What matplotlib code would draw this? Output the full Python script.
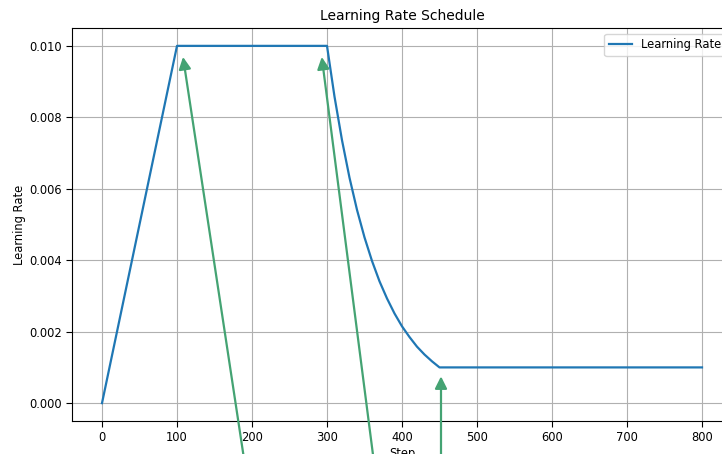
import matplotlib
matplotlib.use("Agg")
import matplotlib.pyplot as plt
import numpy as np

# learning rate schedule
steps = [0, 100, 300, 310, 320, 330, 340, 350, 360, 370, 380, 390,
         400, 410, 420, 430, 440, 450, 800]
lr = [0.0, 0.01, 0.01, 0.00858, 0.00736, 0.00631, 0.00541, 0.00464,
      0.00398, 0.00341, 0.00293, 0.00251, 0.00215, 0.00185, 0.00158,
      0.00136, 0.00117, 0.001, 0.001]

# arrow tips and the (off-figure) tail points
arrow_tips = [(108, 0.00969), (293, 0.00969), (452, 0.00075)]
arrow_tails = [(207, -0.004), (377, -0.004), (452, -0.004)]

plt.rcParams["font.size"] = 8.3

fig = plt.figure(figsize=(7.22, 4.54), dpi=100)
ax = fig.add_axes([72 / 722, 33 / 454, 660 / 722, 393 / 454])

ax.plot(steps, lr, color="#1f77b4", lw=1.6, label="Learning Rate")
ax.set_xlim(-40, 840)
ax.set_ylim(-0.0005, 0.0105)
ax.set_xticks(np.arange(0, 801, 100))
ax.set_yticks(np.arange(0, 0.0101, 0.002))
ax.yaxis.set_major_formatter(matplotlib.ticker.FormatStrFormatter("%.3f"))
ax.tick_params(length=4, pad=3.5)
ax.grid(True)
ax.set_title("Learning Rate Schedule", fontsize=10)
ax.set_xlabel("Step", labelpad=2)
ax.set_ylabel("Learning Rate", labelpad=2)
ax.legend(loc="upper right")

for tip, tail in zip(arrow_tips, arrow_tails):
    ax.annotate("", xy=tip, xytext=tail, annotation_clip=False,
                arrowprops=dict(arrowstyle="-|>", color="#44a373", lw=1.6,
                                mutation_scale=18, shrinkA=0, shrinkB=0))

fig.savefig("out.png", dpi=100)
